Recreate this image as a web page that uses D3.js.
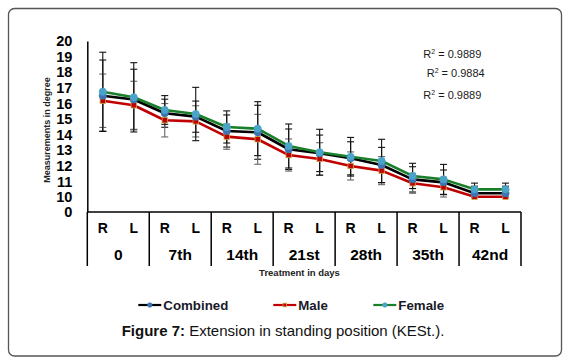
<!DOCTYPE html>
<html>
<head>
<meta charset="utf-8">
<script src="https://cdn.jsdelivr.net/npm/d3@7"></script>
<style>
  body { margin: 0; background: #fff; }
  svg { display: block; font-family: "Liberation Sans", Arial, sans-serif; }
</style>
</head>
<body>
<svg id="chart" width="568" height="362"></svg>
<script>
// ---- data ----
const days = ["0", "7th", "14th", "21st", "28th", "35th", "42nd"];
const sides = ["R", "L"];
const combined = [16.49, 16.25, 15.37, 15.15, 14.23, 14.15, 13.06, 12.80, 12.48, 12.05, 11.13, 10.94, 10.24, 10.24];
const male     = [16.17, 15.88, 14.92, 14.85, 13.87, 13.70, 12.69, 12.44, 11.99, 11.69, 10.88, 10.62, 10.02, 10.02];
const female   = [16.75, 16.39, 15.58, 15.32, 14.49, 14.38, 13.27, 12.87, 12.58, 12.31, 11.35, 11.13, 10.49, 10.49];
const combinedErr = [2.29, 1.94, 0.90, 1.00, 1.03, 1.73, 1.30, 1.17, 1.06, 1.13, 0.81, 0.79, 0.45, 0.45];
const maleErr     = [1.71, 1.54, 1.07, 1.00, 0.81, 1.60, 1.03, 1.04, 0.90, 0.90, 0.64, 0.64, 0.38, 0.38];
const femaleErr   = [2.53, 2.22, 0.92, 1.71, 1.03, 1.73, 1.41, 1.47, 1.24, 1.39, 0.81, 0.96, 0.40, 0.40];
const yTickValues = [20, 19, 18, 17, 16, 15, 14, 13, 12, 11, 10, 0];
const r2Labels = ["0.9889", "0.9884", "0.9889"];
const seriesNames = ["Combined", "Male", "Female"];

// ---- layout ----
const svg = d3.select("#chart");
const pLeft = 87.3, pRight = 521, pTop = 41, pBottom = 212, catBottom = 266;

// border
svg.append("rect").attr("x", 8.5).attr("y", 8.5).attr("width", 553).attr("height", 347.5)
  .attr("rx", 6).attr("fill", "none").attr("stroke", "#555").attr("stroke-width", 1.3);

const keys = [];
days.forEach(d => sides.forEach(s => keys.push(d + "|" + s)));
const x = d3.scaleBand().domain(keys).range([pLeft, pRight]);
const xDay = d3.scaleBand().domain(days).range([pLeft, pRight]);
const cx = i => x(keys[i]) + x.bandwidth() / 2;
// broken axis: 0..10 compressed
const y = d3.scaleLinear().domain([0, 10, 20]).range([pBottom, 197, pTop]);

// y axis
const yAxis = svg.append("g").attr("transform", `translate(${pLeft},0)`)
  .call(d3.axisLeft(y).tickValues(yTickValues).tickSize(0).tickPadding(15).tickFormat(d3.format("d")));
yAxis.select(".domain").attr("stroke", "#000").attr("stroke-width", 1.5);
yAxis.selectAll("text").attr("font-size", 14.5).attr("font-weight", "bold").attr("fill", "#000")
  .attr("font-family", "Liberation Sans, Arial, sans-serif");

// y title
svg.append("text").attr("transform", `translate(50,130) rotate(-90)`)
  .attr("text-anchor", "middle").attr("font-size", 9).attr("font-weight", "bold").attr("fill", "#222")
  .text("Measurements in degree");

// x axis line and separators
svg.append("line").attr("x1", pLeft).attr("x2", pRight).attr("y1", pBottom).attr("y2", pBottom)
  .attr("stroke", "#000").attr("stroke-width", 1.5);
const seps = days.map(d => xDay(d)).concat([pRight]);
svg.selectAll(".sep").data(seps).join("line").attr("class", "sep")
  .attr("x1", d => d).attr("x2", d => d).attr("y1", pBottom).attr("y2", catBottom)
  .attr("stroke", "#000").attr("stroke-width", 1.5);

// R/L labels
const xAxisRL = svg.append("g").attr("transform", `translate(0,${pBottom})`)
  .call(d3.axisBottom(x).tickSize(0).tickPadding(11).tickFormat(k => k.split("|")[1]));
xAxisRL.select(".domain").remove();
xAxisRL.selectAll("text").attr("font-size", 14).attr("font-weight", "bold").attr("fill", "#000")
  .attr("font-family", "Liberation Sans, Arial, sans-serif");

// day labels
const xAxisDay = svg.append("g").attr("transform", `translate(0,${pBottom + 26})`)
  .call(d3.axisBottom(xDay).tickSize(0).tickPadding(11));
xAxisDay.select(".domain").remove();
xAxisDay.selectAll("text").attr("font-size", 15.5).attr("font-weight", "bold").attr("fill", "#000")
  .attr("font-family", "Liberation Sans, Arial, sans-serif");

// x title
svg.append("text").attr("x", 299.5).attr("y", 276).attr("text-anchor", "middle")
  .attr("font-size", 9.5).attr("font-weight", "bold").attr("fill", "#222").text("Treatment in days");

// R² labels
const r2x = [423.3, 426.7, 423.3], r2y = [58, 77, 99];
r2Labels.forEach((v, i) => {
  const t = svg.append("text").attr("x", r2x[i]).attr("y", r2y[i]).attr("font-size", 11)
    .attr("fill", "#1a1a1a");
  t.append("tspan").text("R");
  t.append("tspan").attr("font-size", 7).attr("dy", -4).text("2");
  t.append("tspan").attr("dy", 4).text(" = " + v);
});

// series
const series = [
  { name: "Combined", vals: combined, err: combinedErr, line: "#000", errColor: "#111", marker: "circle", mfill: "#3d74b3", mstroke: "#3d74b3" },
  { name: "Male", vals: male, err: maleErr, line: "#c00000", errColor: "#666", marker: "square", mfill: "#c00000", mstroke: "#c9a94a" },
  { name: "Female", vals: female, err: femaleErr, line: "#1a7f2a", errColor: "#111", marker: "circle", mfill: "#4aa3c8", mstroke: "#4aa3c8" }
];

// error bars
series.forEach(s => {
  const g = svg.append("g");
  s.vals.forEach((v, i) => {
    const e = s.err[i], xx = cx(i);
    g.append("line").attr("x1", xx).attr("x2", xx).attr("y1", y(v - e)).attr("y2", y(v + e))
      .attr("stroke", s.errColor).attr("stroke-width", 1.1);
    [v - e, v + e].forEach(w => g.append("line").attr("x1", xx - 3.5).attr("x2", xx + 3.5)
      .attr("y1", y(w)).attr("y2", y(w)).attr("stroke", s.errColor).attr("stroke-width", 1.1));
  });
});

const line = d3.line().x((d, i) => cx(i)).y(d => y(d));
[series[1], series[0], series[2]].forEach(s => {
  svg.append("path").datum(s.vals).attr("d", line).attr("fill", "none")
    .attr("stroke", s.line).attr("stroke-width", 2.6).attr("stroke-linejoin", "round");
});

function drawMarker(g, s, xx, yy, size) {
  if (s.marker === "circle") {
    g.append("circle").attr("cx", xx).attr("cy", yy).attr("r", size)
      .attr("fill", s.mfill).attr("stroke", s.mstroke).attr("stroke-width", 0.8);
  } else {
    g.append("rect").attr("x", xx - size).attr("y", yy - size).attr("width", size * 2).attr("height", size * 2)
      .attr("fill", s.mfill).attr("stroke", s.mstroke).attr("stroke-width", 0.8);
  }
}
[series[1], series[0], series[2]].forEach(s => {
  const g = svg.append("g");
  s.vals.forEach((v, i) => drawMarker(g, s, cx(i), y(v), s.marker === "circle" ? 3.6 : 2.7));
});

// legend
const legX = [138.3, 273.3, 373.3], legY = 305;
series.forEach((s, i) => {
  const g = svg.append("g");
  g.append("line").attr("x1", legX[i]).attr("x2", legX[i] + 23).attr("y1", legY).attr("y2", legY)
    .attr("stroke", s.line).attr("stroke-width", 2.2);
  drawMarker(g, s, legX[i] + 11.5, legY, s.marker === "circle" ? 2.2 : 1.8);
  g.append("text").attr("x", legX[i] + 25).attr("y", legY + 4.8).attr("font-size", 13.3)
    .attr("font-weight", "bold").attr("fill", "#1a1a2a").text(s.name);
});

// caption
const cap = svg.append("text").attr("x", 121.7).attr("y", 336).attr("font-size", 15).attr("fill", "#111");
cap.append("tspan").attr("font-weight", "bold").text("Figure 7:");
cap.append("tspan").text(" Extension in standing position (KESt.).");
</script>
</body>
</html>
